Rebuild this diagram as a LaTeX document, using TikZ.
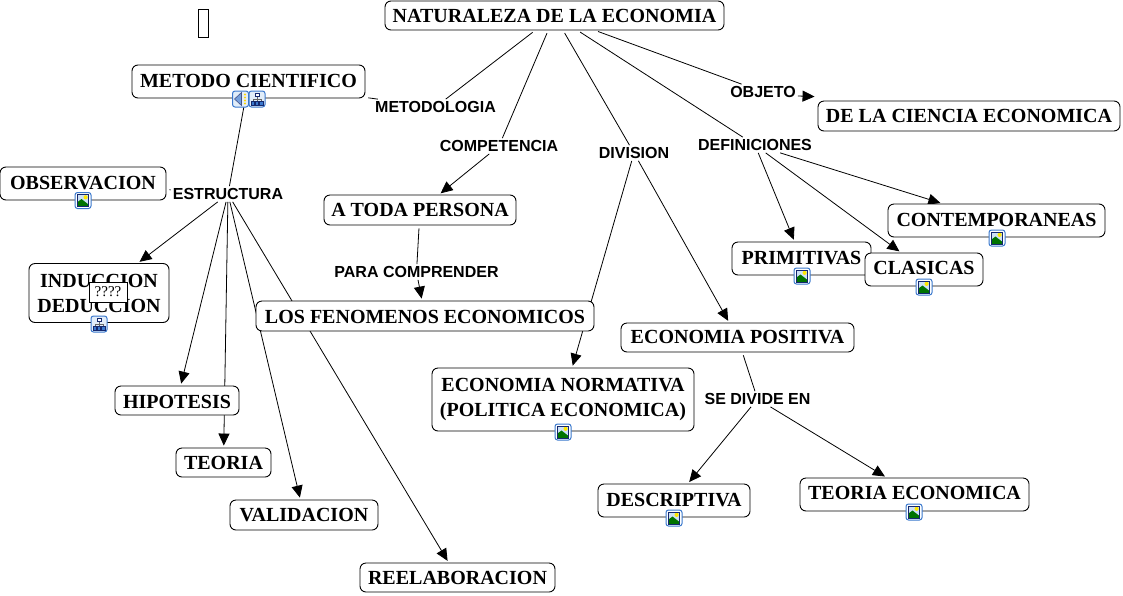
\documentclass[tikz,border=0pt]{standalone}
\usepackage{fontspec}
\setmainfont{Liberation Serif}
\newfontfamily\lblfont{Liberation Sans}
\usetikzlibrary{arrows.meta,backgrounds}
\definecolor{iconblue}{RGB}{58,120,205}
\definecolor{iconnavy}{RGB}{20,40,110}
\definecolor{iconsky}{RGB}{205,225,245}
\tikzset{
  x=1pt,y=-1pt,
  concept/.style={draw=black,fill=white,rounded corners=6pt,line width=0.9pt,inner sep=0pt,align=center,
    font=\fontsize{20}{25}\selectfont\bfseries},
  rise/.style={text depth=#1},
  sink/.style={text height=#1},
  lbl/.style={inner xsep=2pt,inner ysep=2pt,font=\lblfont\fontsize{16}{18}\selectfont\bfseries},
  link/.style={draw=black,line width=0.8pt,shorten <=3pt},
  arrowlink/.style={draw=black,line width=0.8pt,shorten >=2pt,-{Triangle[length=12pt,width=11pt]}},
  iconframe/.style={draw=iconblue,fill=white,rounded corners=2.5pt,line width=1pt},
  pics/imgicon/.style={code={
    \draw[iconframe] (-8,-8) rectangle (8,8);
    \fill[iconsky] (-5.5,-6) rectangle (5.5,6);
    \fill[yellow!90!orange] (2.6,-3.2) circle (2.1);
    \fill[green!45!black] (-5.5,6) -- (-5.5,1.5) -- (-1.5,-1.5) -- (5.5,4) -- (5.5,6) -- cycle;
    \draw[iconnavy,line width=0.8pt] (-5.5,-6) rectangle (5.5,6);
  }},
  pics/hiericon/.style={code={
    \draw[iconframe,fill=iconsky!60!white] (-8,-8) rectangle (8,8);
    \draw[black!60,line width=0.7pt] (0,-3) -- (0,3) (-4,3) -- (-4,0) -- (4,0) -- (4,3);
    \draw[iconnavy,fill=white,line width=0.8pt] (-2,-6) rectangle (2,-3);
    \draw[iconnavy,fill=iconblue,line width=0.8pt] (-6,2.5) rectangle (-2.5,6);
    \draw[iconnavy,fill=iconblue,line width=0.8pt] (-1.5,2.5) rectangle (1.5,6);
    \draw[iconnavy,fill=iconblue,line width=0.8pt] (2.5,2.5) rectangle (6,6);
  }},
  pics/soundicon/.style={code={
    \draw[iconframe,fill=iconsky!60!white] (-8,-8) rectangle (8,8);
    \draw[iconnavy!80!white,fill=iconblue!70!white,line width=0.6pt] (-6,0) -- (1,-6.5) -- (1,6.5) -- cycle;
    \fill[yellow!75!orange] (4.5,-4.5) circle (1.2) (4.5,-1.5) circle (1.2) (4.5,1.5) circle (1.2) (4.5,4.5) circle (1.2);
  }},
}
\begin{document}
\begin{tikzpicture}
\useasboundingbox (0,0) rectangle (1123,595);

% decorative empty box
\node[draw=black,line width=0.6pt,fill=white,minimum width=10pt,minimum height=28pt,inner sep=0pt] (blank) at (203,23) {};

% concepts
\node[concept,minimum width=339pt,minimum height=29pt] (nat) at (554.5,15.5) {NATURALEZA DE LA ECONOMIA};
\node[concept,rise=2pt,minimum width=233pt,minimum height=33pt] (met) at (248.5,81.5) {METODO CIENTIFICO};
\node[concept,minimum width=302pt,minimum height=30pt] (cien) at (969,116) {DE LA CIENCIA ECONOMICA};
\node[concept,rise=2pt,minimum width=166pt,minimum height=33pt] (obs) at (83,183.5) {OBSERVACION};
\node[concept,minimum width=192pt,minimum height=30pt] (toda) at (420,210) {A TODA PERSONA};
\node[concept,rise=2pt,minimum width=217pt,minimum height=33pt] (cont) at (996.5,220.5) {CONTEMPORANEAS};
\node[concept,minimum width=139pt,minimum height=33pt] (prim) at (801.5,258.5) {PRIMITIVAS};
\node[concept,rise=3pt,minimum width=118pt,minimum height=33pt] (clas) at (924,269.5) {CLASICAS};
\node[concept,minimum width=140pt,minimum height=59pt] (ind) at (99,293) {INDUCCION\\DEDUCCION};
\node[concept,sink=15.5pt,minimum width=338pt,minimum height=30pt] (fen) at (425,316) {LOS FENOMENOS ECONOMICOS};
\node[concept,minimum width=233pt,minimum height=29pt] (pos) at (737.5,337.5) {ECONOMIA POSITIVA};
\node[concept,minimum width=262pt,minimum height=63pt] (norm) at (563,399.5) {ECONOMIA NORMATIVA\\(POLITICA ECONOMICA)};
\node[concept,sink=15.5pt,minimum width=124pt,minimum height=29pt] (hip) at (177,400.5) {HIPOTESIS};
\node[concept,minimum width=95pt,minimum height=29pt] (teo) at (223.5,462.5) {TEORIA};
\node[concept,minimum width=148pt,minimum height=30pt] (val) at (304,515) {VALIDACION};
\node[concept,minimum width=195pt,minimum height=29pt] (ree) at (457.5,577.5) {REELABORACION};
\node[concept,minimum width=152pt,minimum height=33pt] (des) at (674,500.5) {DESCRIPTIVA};
\node[concept,rise=4pt,minimum width=229pt,minimum height=33pt] (tec) at (914.5,494.5) {TEORIA ECONOMICA};

% link labels
\node[lbl] (lmet) at (435.5,107) {METODOLOGIA};
\node[lbl] (lcom) at (499,146) {COMPETENCIA};
\node[lbl] (ldiv) at (634,153) {DIVISION};
\node[lbl] (lobj) at (763,92) {OBJETO};
\node[lbl] (ldef) at (755,145) {DEFINICIONES};
\node[lbl] (lest) at (228,194) {ESTRUCTURA};
\node[lbl] (lpar) at (416.5,272) {PARA COMPRENDER};
\node[lbl] (lsed) at (757.5,399) {SE DIVIDE EN};

% icons
\pic at (240.5,99) {soundicon};
\pic at (257,99) {hiericon};
\pic at (83,200.5) {imgicon};
\pic at (99,324) {hiericon};
\pic at (997,238) {imgicon};
\pic at (802,276) {imgicon};
\pic at (924,287) {imgicon};
\pic at (563,432) {imgicon};
\pic at (674,518) {imgicon};
\pic at (914,512) {imgicon};

% tooltip
\node[draw=black,fill=white,line width=0.6pt,minimum width=38pt,minimum height=20pt,inner sep=0pt,font=\fontsize{15}{16}\selectfont] (tip) at (108,292) {????};

% connectors, behind the boxes
\begin{scope}[on background layer]
\fill[white] (0,0) rectangle (1123,595);
\draw[link] (nat) -- (lmet);
\draw[link] (met) -- (lmet);
\draw[link] (nat) -- (lcom);
\draw[arrowlink] (lcom) -- (toda);
\draw[link] (nat) -- (ldiv);
\draw[arrowlink] (ldiv) -- (norm);
\draw[arrowlink] (ldiv) -- (pos);
\draw[link] (nat) -- (lobj);
\draw[arrowlink,shorten >=0pt] ([yshift=-4pt]lobj.east) -- ([yshift=4pt,xshift=-3pt]cien.north west);
\draw[link] (nat) -- (ldef);
\draw[arrowlink] (ldef) -- (prim);
\draw[arrowlink] (ldef) -- (clas);
\draw[arrowlink] (ldef) -- (cont);
\draw[link] (met) -- (lest);
\draw[link] (obs) -- (lest);
\draw[arrowlink] (lest) -- (ind);
\draw[arrowlink] (lest) -- (hip);
\draw[arrowlink] (lest) -- (teo);
\draw[arrowlink] (lest) -- (val);
\draw[arrowlink] (lest) -- (ree);
\draw[link] (toda) -- (lpar);
\draw[arrowlink] (lpar) -- (fen);
\draw[link] (pos) -- (lsed);
\draw[arrowlink] (lsed) -- (des);
\draw[arrowlink] (lsed) -- (tec);
\end{scope}
\end{tikzpicture}
\end{document}
